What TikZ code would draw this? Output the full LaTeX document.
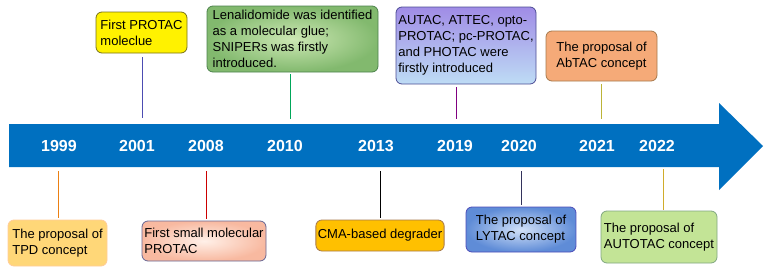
\documentclass[tikz,border=0pt]{standalone}
\usepackage{fontspec}
\setmainfont{Liberation Sans}
\usetikzlibrary{positioning,calc}

\definecolor{arrowblue}{RGB}{0,112,192}
\definecolor{lenain}{RGB}{205,232,180}
\definecolor{lenaout}{RGB}{130,185,110}
\definecolor{autactop}{RGB}{160,140,230}
\definecolor{autacbot}{RGB}{190,220,245}
\definecolor{lytacin}{RGB}{210,225,248}
\definecolor{lytacout}{RGB}{95,140,215}
\definecolor{smallin}{RGB}{255,240,232}
\definecolor{smallout}{RGB}{248,185,160}
\definecolor{abtacfill}{RGB}{245,170,120}
\definecolor{tpdfill}{RGB}{255,215,120}
\definecolor{cmafill}{RGB}{255,192,0}
\definecolor{autotacfill}{RGB}{195,228,150}

\begin{document}
\begin{tikzpicture}
        [x=1pt,y=-1pt,
        every node/.style={font=\fontsize{13}{16}\selectfont},
        event/.style={draw,rounded corners=6pt,line width=0.8pt,align=left,inner sep=2pt},
        year/.style={text=white,font=\fontsize{16}{16}\selectfont\bfseries},
        link/.style={line width=0.8pt}]
        \useasboundingbox (0,0) rectangle (768,276);
        % timeline arrow
        \fill[arrowblue] (9,124) -- (719,124) -- (719,103) -- (763,146) -- (719,190) -- (719,167) -- (9,167) -- cycle;
        \foreach \yr/\xpos in {1999/59,2001/137,2008/206,2010/285,2013/376,2019/455,2020/519,2021/597,2022/657}
            \node[year] (yr\yr) at (\xpos,146) {\yr};
        % points on the arrow edges
        \coordinate (t2001) at (142,118);
        \coordinate (t2010) at (290,119);
        \coordinate (t2019) at (456,119);
        \coordinate (t2021) at (601,119);
        \coordinate (b1999) at (58,171);
        \coordinate (b2008) at (206,171);
        \coordinate (b2013) at (380,171);
        \coordinate (b2020) at (521,171);
        \coordinate (b2022) at (663,169);
        % events above
        \node[event,draw=olive!80!black,fill=yellow,minimum width=91pt,minimum height=41pt] (protac1) at (141.5,32.5)
            {First PROTAC\\moleclue};
        \node[event,draw=green!30!black!70,inner color=lenain,outer color=lenaout,minimum width=171pt,minimum height=66pt] (lena) at (292.5,39)
            {Lenalidomide was identified\\as a molecular glue;\\SNIPERs was firstly\\introduced.};
        \node[event,draw=blue!40!black!70,top color=autactop,bottom color=autacbot,minimum width=140pt,minimum height=77pt] (autac) at (466,45.5)
            {AUTAC, ATTEC, opto-\\PROTAC; pc-PROTAC,\\and PHOTAC were\\firstly introduced};
        \node[event,draw=orange!50!black!70,fill=abtacfill,minimum width=111pt,minimum height=50pt] (abtac) at (601.5,56)
            {The proposal of\\AbTAC concept};
        % events below
        \node[event,draw=orange!40!white,fill=tpdfill,minimum width=99pt,minimum height=46pt] (tpd) at (57.5,243)
            {The proposal of\\TPD concept};
        \node[event,draw=blue!30!black!60,inner color=smallin,outer color=smallout,minimum width=124pt,minimum height=40pt] (small) at (204,241)
            {First small molecular\\PROTAC};
        \node[event,draw=orange!50!black!70,fill=cmafill,minimum width=128pt,minimum height=31pt] (cma) at (380,235.5)
            {CMA-based degrader};
        \node[event,draw=blue!60!black!70,inner color=lytacin,outer color=lytacout,minimum width=110pt,minimum height=45pt] (lytac) at (521,229.5)
            {The proposal of\\LYTAC concept};
        \node[event,draw=green!30!black!50,fill=autotacfill,minimum width=116pt,minimum height=52pt] (autotac) at (659,237)
            {The proposal of\\AUTOTAC concept};
        % connectors
        \draw[link,blue!40!gray] (protac1.south -| t2001) ++(0,4) -- (t2001);
        \draw[link,teal!70!green] (lena.south -| t2010) ++(0,2) -- (t2010);
        \draw[link,violet] (autac.south -| t2019) ++(0,3) -- (t2019);
        \draw[link,yellow!70!black] (abtac.south -| t2021) ++(0,3) -- (t2021);
        \draw[link,orange!70!brown] (b1999) -- ([yshift=2pt]tpd.north -| b1999);
        \draw[link,red!80!black] (b2008) -- ([yshift=2pt]small.north -| b2008);
        \draw[link,black] (b2013) -- ([yshift=2pt]cma.north -| b2013);
        \draw[link,blue!20!black!80] (b2020) -- ([yshift=2pt]lytac.north -| b2020);
        \draw[link,yellow!60!orange!80!black] (b2022) -- ([yshift=1pt]autotac.north -| b2022);
        \end{tikzpicture}
\end{document}
